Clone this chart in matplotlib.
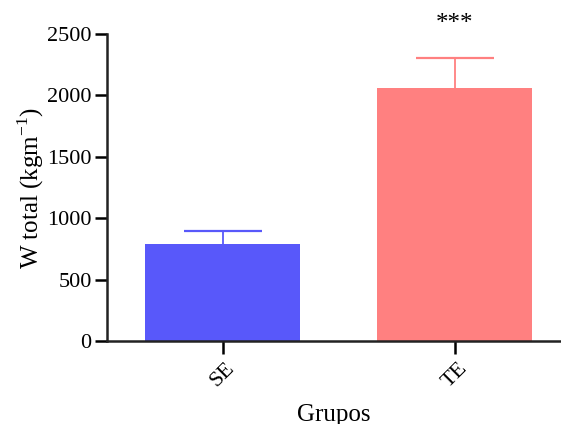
import matplotlib
matplotlib.use("Agg")
import matplotlib.pyplot as plt
from matplotlib.transforms import ScaledTranslation

categories = ["SE", "TE"]
means = [790, 2060]
errors = [108, 245]
colors = ["#5858FA", "#FF8080"]
significance = ["", "***"]

plt.rcParams['font.family'] = ['Liberation Serif', 'DejaVu Serif']

fig = plt.figure(figsize=(5.61, 4.24), dpi=100)
ax = fig.add_axes([0.1907, 0.1958, 0.809, 0.724])

x = list(range(len(categories)))
bar_w = 0.668
cap_half = 0.168
ax.bar(x, means, width=bar_w, color=colors, zorder=2)
for xi, m, e, c, s in zip(x, means, errors, colors, significance):
    ax.vlines(xi, m, m + e, colors=c, linewidth=1.3, zorder=1)
    ax.hlines(m + e, xi - cap_half, xi + cap_half, colors=c, linewidth=1.6, zorder=1)
    if s:
        ax.text(xi, m + e + 190, s, ha='center', va='bottom', fontsize=18)

ax.set_xlim(-0.4987, 1.458)
ax.set_ylim(0, 2500)
ax.set_yticks([0, 500, 1000, 1500, 2000, 2500])
ax.set_xticks(x)
ax.set_xticklabels(categories, rotation=45, ha='center', va='top', fontsize=16)
offset = ScaledTranslation(-5 / 72, 0, fig.dpi_scale_trans)
for lbl in ax.get_xticklabels():
    lbl.set_transform(lbl.get_transform() + offset)
ax.tick_params(axis='y', labelsize=16, length=9, width=1.8, direction='out', pad=2)
ax.tick_params(axis='x', length=9, width=1.8, direction='out')
for side in ['top', 'right']:
    ax.spines[side].set_visible(False)
for side in ['left', 'bottom']:
    ax.spines[side].set_linewidth(1.8)
    ax.spines[side].set_color('#222222')
ax.set_ylabel("W total (kgm$^{\\mathregular{-1}}$)", fontsize=18, labelpad=1)
ax.set_xlabel("Grupos", fontsize=18, labelpad=9)

fig.savefig("out.png", dpi=100)
